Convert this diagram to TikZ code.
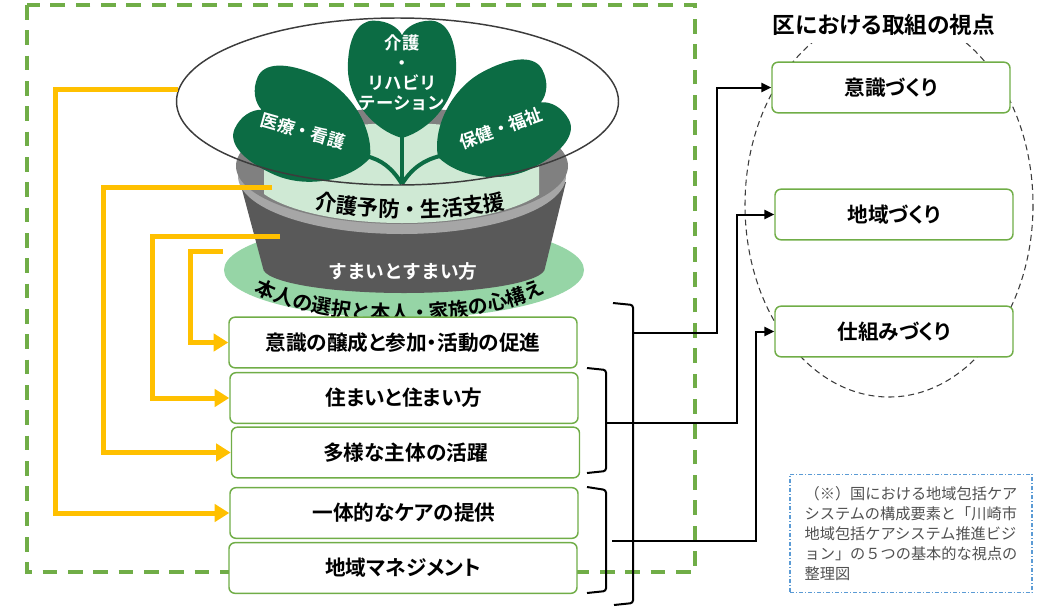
\documentclass[tikz,border=0pt]{standalone}
\usepackage{fontspec}
\setmainfont{Noto Sans CJK JP}[BoldFont={* Bold}]
\newfontfamily\jpp{Noto Sans CJK JP}[BoldFont={* Bold}, RawFeature=+palt]
\usetikzlibrary{arrows.meta, shapes.geometric, decorations.text}
\definecolor{careyellow}{RGB}{255,192,0}
\definecolor{boxgreen}{RGB}{112,173,71}
\definecolor{leafgreen}{RGB}{12,108,68}
\definecolor{discgreen}{RGB}{150,213,166}
\definecolor{soilgreen}{RGB}{207,233,212}
\definecolor{potdark}{RGB}{89,89,89}
\definecolor{potrim}{RGB}{128,128,128}
\definecolor{potlip}{RGB}{166,166,166}
\definecolor{ringgray}{RGB}{60,60,60}
\definecolor{noteblue}{RGB}{91,155,213}
\definecolor{notegray}{RGB}{80,80,80}

\begin{document}
\begin{tikzpicture}[x=0.75pt, y=-0.75pt,
	box/.style={draw=boxgreen, line width=1.1pt, rounded corners=4.5pt, fill=white,
		minimum width=261pt, minimum height=38pt, font=\jpp\bfseries\fontsize{15.5}{18}\selectfont},
	view/.style={box, minimum width=178.5pt},
	feed/.style={draw=careyellow, line width=3.75pt, -{Triangle[length=11pt, width=13pt]}},
	link/.style={line width=1.5pt, -{Triangle[length=7.5pt, width=7pt]}},
	brace/.style={line width=1.5pt, rounded corners=2pt},
	stem/.style={draw=leafgreen, line width=3pt},
	leaftext/.style={text=white, align=center, font=\bfseries\fontsize{13}{15}\selectfont},
	leaf/.pic={
		\fill[leafgreen] (0,0) .. controls (-30,-8) and (-57,-40) .. (-57,-72)
			.. controls (-57,-104) and (-46,-121) .. (-30,-121)
			.. controls (-15,-121) and (-4,-114) .. (0,-106)
			.. controls (4,-114) and (15,-121) .. (30,-121)
			.. controls (46,-121) and (57,-104) .. (57,-72)
			.. controls (57,-40) and (30,-8) .. (0,0) -- cycle;
	}]
	\useasboundingbox (0,0) rectangle (1045,607);

	% Pot on its disc:
	\fill[discgreen] (404,270) ellipse[x radius=180, y radius=48];
	\fill[potdark] (240,182) -- (263,268) arc[start angle=180, end angle=0, x radius=141, y radius=25] -- (566,182) -- cycle;
	\fill[potlip] (402,176) ellipse[x radius=164, y radius=58];
	\fill[potrim] (402,166) ellipse[x radius=166, y radius=58];
	\begin{scope}
		\clip (264,100) rectangle (539,240);
		\fill[soilgreen] (402,173) ellipse[x radius=152, y radius=50];
	\end{scope}
	\path[decorate, decoration={text along path, text align=center,
		text={|\bfseries\fontsize{16}{16}\selectfont|介護予防・生活支援}}]
		([shift={(150:200 and 68.6)}]410,148.4) arc[start angle=150, end angle=30, x radius=200, y radius=68.6];
	\node[text=white, font=\bfseries\fontsize{14}{16}\selectfont] (sumaikatatext) at (403,271) {すまいとすまい方};
	\path[decorate, decoration={text along path, text align=center,
		text={|\bfseries\fontsize{15}{15}\selectfont|本人の選択と本人・家族の心構え}}]
		([shift={(170:177 and 64.5)}]400,256) arc[start angle=170, end angle=10, x radius=177, y radius=64.5];

	% Stems and leaves:
	\draw[stem] (402,184) -- (402,125);
	\draw[stem] (402,184) .. controls (392,168) and (382,160) .. (366,156);
	\draw[stem] (402,184) .. controls (412,168) and (424,160) .. (440,156);
	\pic[rotate=66, xscale=0.95, yscale=1.12] at (370,158) {leaf};
	\pic[rotate=-62, xscale=0.95, yscale=1.1] at (438,157) {leaf};
	\pic[xscale=0.95, yscale=0.97] at (402,138) {leaf};
	\node[leaftext] (kaigo) at (402,73) {介護\\・\\リハビリ\\テーション};
	\node[leaftext, rotate=-16] (iryo) at (303,131) {医療・看護};
	\node[leaftext, rotate=20] (hoken) at (501,128) {保健・福祉};
	\node[ellipse, draw=ringgray, line width=1.1pt, minimum width=331.5pt, minimum height=125.25pt, inner sep=0] (care) at (397.5,101.5) {};

	% Frame and the five boxes:
	\draw[boxgreen, line width=2.5pt, dash pattern=on 11pt off 8pt] (27,5) rectangle (695,572);
	\node[box] (jousei) at (403,342.5) {意識の醸成と参加・活動の促進};
	\node[box] (sumai) at (404,398) {住まいと住まい方};
	\node[box] (shutai) at (405.5,452.5) {多様な主体の活躍};
	\node[box] (ittai) at (404,513) {一体的なケアの提供};
	\node[box] (manage) at (403,568) {地域マネジメント};

	\coordinate (yobo) at (272,187);
	\coordinate (sumaikata) at (280,236);
	\coordinate (kokoro) at (223,251);
	\draw[feed] (care.177) -- ++(-122,0) |- (ittai.west);
	\draw[feed] (yobo) -- ++(-169,0) |- (shutai.west);
	\draw[feed] (sumaikata) -- ++(-128,0) |- (sumai.west);
	\draw[feed] (kokoro) -- ++(-33,0) |- (jousei.west);

	% Viewpoints on the right:
	\draw[ringgray, line width=0.8pt, dash pattern=on 4.5pt off 3pt] (889,205) ellipse[x radius=144, y radius=192];
	\node[fill=white, minimum height=27pt, font=\jpp\bfseries\fontsize{17}{18}\selectfont] (shiten) at (884,25) {区における取組の視点};
	\node[view] (ishiki) at (891,87.5) {意識づくり};
	\node[view] (chiiki) at (894,214.5) {地域づくり};
	\node[view] (shikumi) at (894,331.5) {仕組みづくり};

	% Brackets and wires:
	\draw[brace] (613,303) -- (633,305) -- (633,603) -- (614,605);
	\draw[brace] (587,368) -- (606,370) -- (606,471) -- (587,473);
	\draw[brace] (587,487) -- (606,490) -- (606,591) -- (587,593);
	\coordinate (bA) at (633,333);
	\coordinate (bB) at (606,423);
	\coordinate (bC) at (612,541);
	\draw[link] (bA) -- ++(84,0) |- (ishiki.west);
	\draw[link] (bB) -- ++(131,0) |- (chiiki.west);
	\draw[link] (bC) -- ++(144,0) |- (shikumi.west);

	\node[draw=noteblue, line width=0.8pt, dash pattern=on 3pt off 1.5pt on 0.8pt off 1.5pt,
		minimum width=181.5pt, minimum height=89pt, align=left, text=notegray,
		font=\fontsize{11.4}{15}\selectfont] (chuki) at (911,533.5)
		{（※）国における地域包括ケア\\システムの構成要素と「川崎市\\地域包括ケアシステム推進ビジ\\ョン」の５つの基本的な視点の\\整理図};
\end{tikzpicture}
\end{document}
